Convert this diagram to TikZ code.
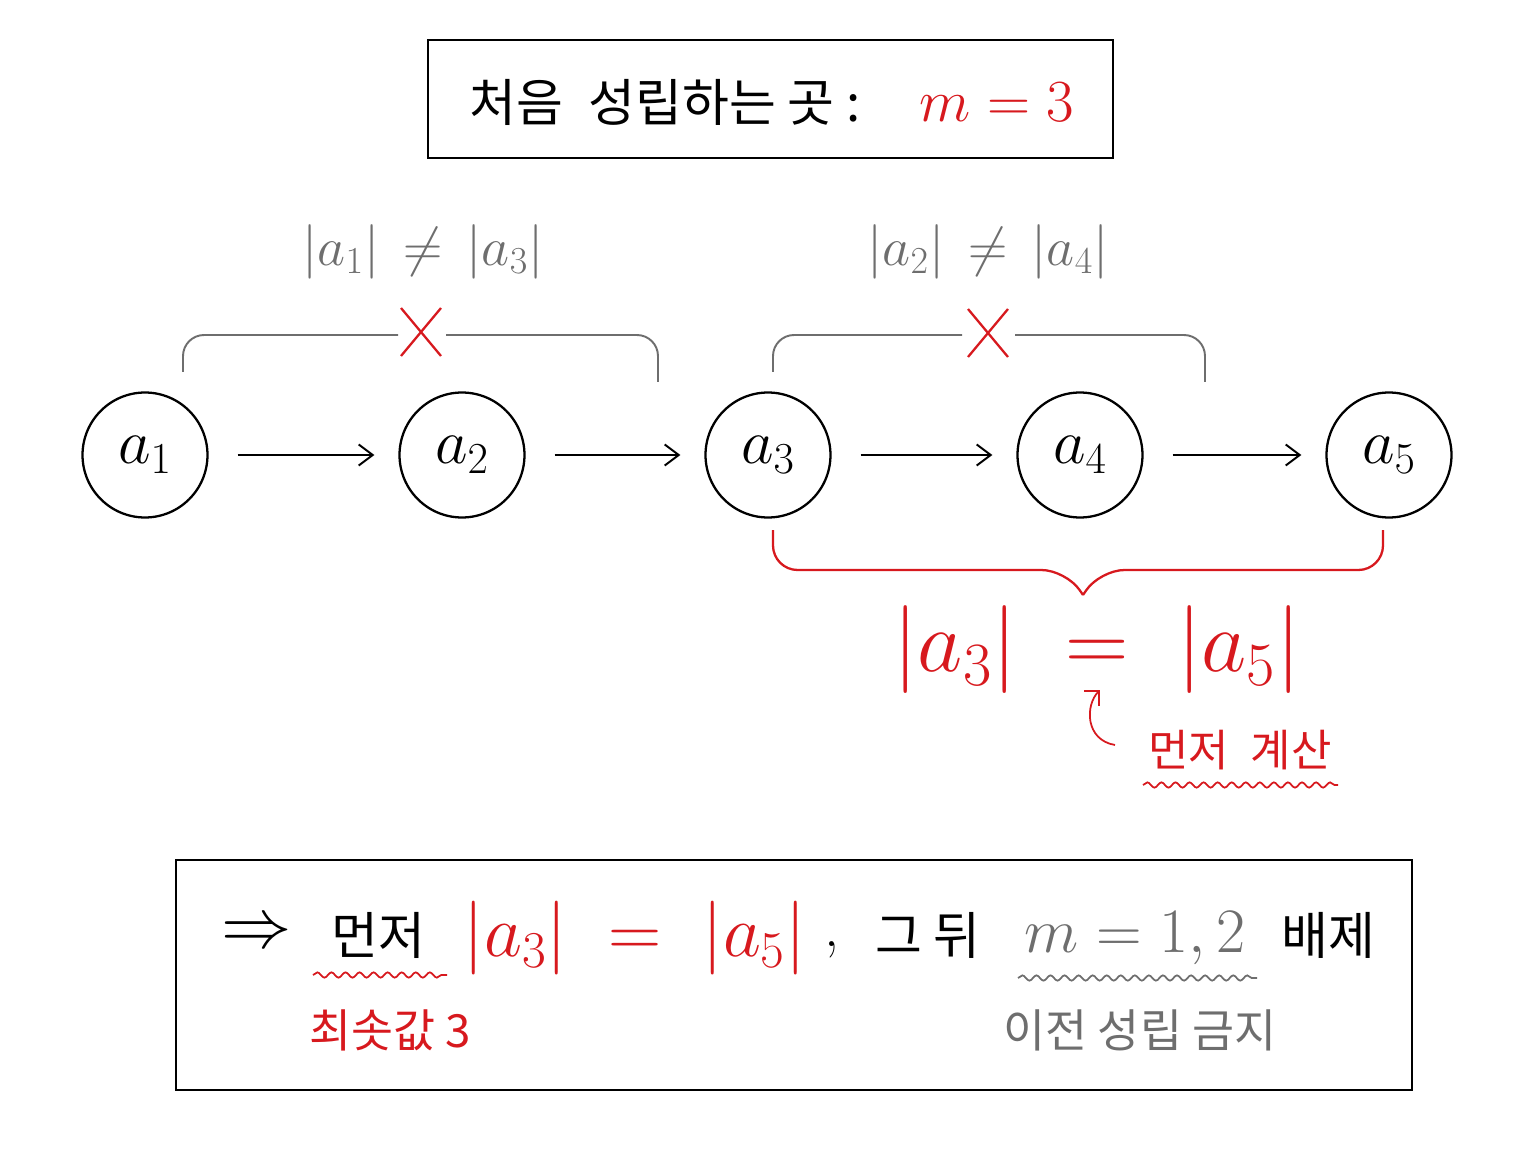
\documentclass[tikz,border=0pt]{standalone}
\usepackage{fix-cm}
\usepackage{fontspec}
\newfontfamily\kr{Noto Sans CJK KR}
\usetikzlibrary{decorations.pathreplacing,decorations.pathmorphing,arrows.meta}
\definecolor{rd}{RGB}{215,25,30}
\definecolor{gr}{RGB}{110,110,110}
\begin{document}
\begin{tikzpicture}[x=0.02cm,y=-0.02cm,
  circ/.style={draw,circle,line width=1.3pt,minimum size=2.5cm,font=\fontsize{36}{36}\selectfont},
  arr/.style={-{Straight Barb[length=8pt,width=12pt]},line width=1.1pt,shorten <=0.58cm,shorten >=0.48cm},
  brk/.style={draw=gr,line width=1.1pt,rounded corners=12pt},
  frame/.style={draw,line width=1.3pt},
  crs/.style={draw=rd,line width=1.3pt},
  wav/.style={decorate,decoration={snake,amplitude=1.5pt,segment length=8pt},line width=1pt}]
\useasboundingbox (0,0) rectangle (1536,1152);
% top box
\draw[frame] (428,40) rectangle (1113,158);
\node (title) at (665,102) {\kr\fontsize{29}{29}\selectfont 처음\enspace 성립하는 곳 :};
\node[text=rd] (tm) at (997,102) {\fontsize{34}{34}\selectfont $m=3$};
% circles
\node[circ] (a1) at (145,455) {$a_1$};
\node[circ] (a2) at (462,455) {$a_2$};
\node[circ] (a3) at (768,455) {$a_3$};
\node[circ] (a4) at (1080,455) {$a_4$};
\node[circ] (a5) at (1389,455) {$a_5$};
\foreach \p/\q in {a1/a2,a2/a3,a3/a4,a4/a5}
  \draw[arr] (\p.east) -- (\q.west);
% gray brackets
\coordinate (b1) at (183,372); \coordinate (b2) at (658,382);
\draw[brk] (b1) -- (183,335) -- (398,335);
\draw[brk] (446,335) -- (658,335) -- (b2);
\coordinate (c1) at (773,372); \coordinate (c2) at (1205,382);
\draw[brk] (c1) -- (773,335) -- (962,335);
\draw[brk] (1015,335) -- (1205,335) -- (c2);
\coordinate (x1) at (421,332); \coordinate (x2) at (988,333);
\foreach \c in {x1,x2}{
  \draw[crs] ([shift={(-20,-24)}]\c) -- ([shift={(20,24)}]\c);
  \draw[crs] ([shift={(20,-24)}]\c) -- ([shift={(-20,24)}]\c);}
\node[text=gr,font=\fontsize{31}{31}\selectfont] (l1) at (423,252) {$|a_1|\,\neq\,|a_3|$};
\node[text=gr,font=\fontsize{31}{31}\selectfont] (l2) at (988,252) {$|a_2|\,\neq\,|a_4|$};
% red brace
\draw[rd,line width=1.3pt,rounded corners=14pt] (773,530) -- (773,570) -- (1066,570) -- (1083,595);
\draw[rd,line width=1.3pt,rounded corners=14pt] (1383,530) -- (1383,570) -- (1100,570) -- (1083,595);
\node[text=rd,font=\fontsize{50}{50}\selectfont] (eq) at (1097,650) {$|a_3|\;=\;|a_5|$};
\node[text=rd] (calc) at (1240,750) {\kr\fontsize{25}{25}\selectfont 먼저\enspace 계산};
\draw[rd,line width=1pt,-{Straight Barb[length=6pt]}] (1115,745) .. controls (1085,740) and (1085,705) .. (1100,690);
\draw[rd,wav] (1143,785) -- (1338,785);
% bottom box
\draw[frame] (176,860) rectangle (1412,1090);
\node (r1) at (257,935) {\fontsize{40}{40}\selectfont $\Rightarrow$};
\node (r2) at (378,935) {\kr\fontsize{29}{29}\selectfont 먼저};
\node[text=rd] (r3) at (635,938) {\fontsize{42}{42}\selectfont $|a_3|\;=\;|a_5|$};
\node (r4) at (832,950) {\fontsize{34}{34}\selectfont ,};
\node (r5) at (928,935) {\kr\fontsize{29}{29}\selectfont 그 뒤};
\node[text=gr] (r6) at (1135,938) {\fontsize{36}{36}\selectfont $m=1,2$};
\node (r7) at (1328,935) {\kr\fontsize{29}{29}\selectfont 배제};
\draw[rd,wav] (313,975) -- (447,975);
\draw[gr,wav] (1018,978) -- (1257,978);
\node[text=rd] (n1) at (390,1030) {\kr\fontsize{26}{26}\selectfont 최솟값 3};
\node[text=gr] (n2) at (1140,1030) {\kr\fontsize{26}{26}\selectfont 이전 성립 금지};
\end{tikzpicture}
\end{document}
